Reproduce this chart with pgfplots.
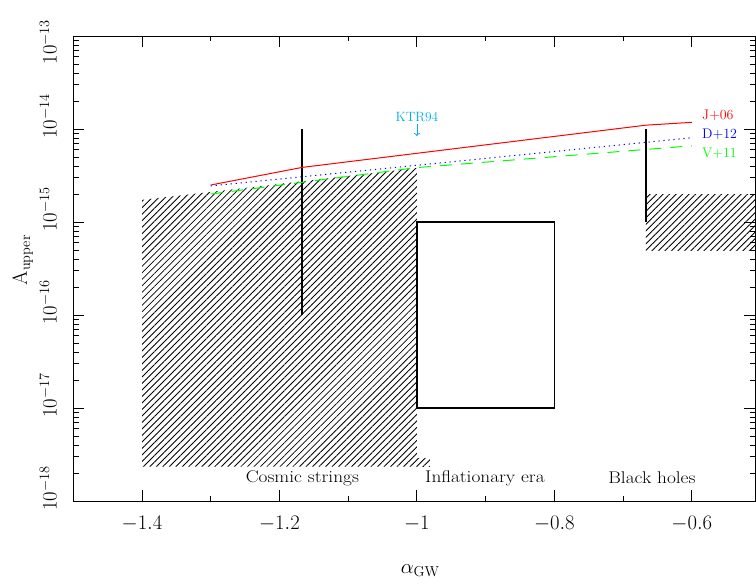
\documentclass[border=0pt]{standalone}
\usepackage{pgfplots}
\pgfplotsset{compat=1.18}
\usepackage{graphicx}
\usetikzlibrary{patterns.meta,arrows.meta}
\tikzset{hatch/.style={draw=none, pattern={Lines[angle=45,distance=4.6bp,line width=0.85bp]}}}
\begin{document}
\begin{tikzpicture}
\useasboundingbox (-73.3bp,-83bp) rectangle (682.7bp,501bp);
\begin{axis}[
  at={(0,0)}, anchor=south west,
  scale only axis, width=681.7bp, height=465bp,
  xmin=-1.5, xmax=-0.508, ymin=1e-18, ymax=1e-13, ymode=log,
  axis line style={line width=1bp},
  tick style={black, line width=0.9bp},
  tick align=inside, major tick length=11bp, minor tick length=5.5bp,
  xtick={-1.4,-1.2,-1,-0.8,-0.6},
  minor xtick={-1.5,-1.3,-1.1,-0.9,-0.7},
  ytick={1e-18,1e-17,1e-16,1e-15,1e-14,1e-13},
  minor ytick={2e-18,3e-18,4e-18,5e-18,6e-18,7e-18,8e-18,9e-18,
               2e-17,3e-17,4e-17,5e-17,6e-17,7e-17,8e-17,9e-17,
               2e-16,3e-16,4e-16,5e-16,6e-16,7e-16,8e-16,9e-16,
               2e-15,3e-15,4e-15,5e-15,6e-15,7e-15,8e-15,9e-15,
               2e-14,3e-14,4e-14,5e-14,6e-14,7e-14,8e-14,9e-14},
  yticklabels={$\phantom{^{-18}}10^{-18}$,$\phantom{^{-17}}10^{-17}$,
               $\phantom{^{-16}}10^{-16}$,$\phantom{^{-15}}10^{-15}$,
               $\phantom{^{-14}}10^{-14}$,$10^{-13}$\hspace*{12bp}},
  tick label style={font=\fontsize{21}{25}\selectfont},
  xticklabel style={anchor=north, inner sep=0pt},
  xticklabel shift=15bp,
  yticklabel style={rotate=90, anchor=south, inner sep=0pt},
  yticklabel shift=16.5bp,
  xlabel={$\alpha_{\mathrm{GW}}$},
  ylabel={$\mathrm{A}_{\mathrm{upper}}$},
  label style={font=\fontsize{22}{26}\selectfont},
  xlabel style={at={(axis description cs:0.509,-0.15)}, anchor=center},
  ylabel style={at={(axis description cs:-0.074,0.518)}, anchor=center},
]

% hatched regions
\addplot[hatch]
  coordinates {(-1.4,2.34e-18) (-1.4,1.73e-15) (-1.0,3.81e-15) (-1.0,2.34e-18)} -- cycle;
\addplot[hatch]
  coordinates {(-0.981,2.34e-18) (-1.0,2.34e-18) (-1.0,2.9e-18) (-0.981,2.9e-18)} -- cycle;
\addplot[hatch]
  coordinates {(-0.6667,5e-16) (-0.6667,2e-15) (-0.5,2e-15) (-0.5,5e-16)} -- cycle;

% inflationary box
\addplot[black, line width=1.6bp]
  coordinates {(-1,1e-17) (-0.8,1e-17) (-0.8,1e-15) (-1,1e-15)} -- cycle;

% vertical bars
\addplot[black, line width=1.8bp] coordinates {(-1.1667,1e-16) (-1.1667,1e-14)};
\addplot[black, line width=1.8bp] coordinates {(-0.6667,1e-15) (-0.6667,1e-14)};

% limits
\addplot[red, line width=1bp]
  coordinates {(-1.3,2.5e-15) (-1.1667,3.87e-15) (-0.6667,1.1e-14) (-0.6,1.18e-14)};
\addplot[blue, line width=1bp, dash pattern=on 1.2bp off 3.8bp]
  coordinates {(-1.3,2.44e-15) (-0.6,8.06e-15)};
\addplot[green, line width=1bp, dash pattern=on 12bp off 9bp]
  coordinates {(-1.3,2.0e-15) (-1.0,3.85e-15) (-0.6,6.6e-15)};

% KTR94 arrow
\addplot[cyan, line width=0.8bp, -{To[length=3bp,width=6bp]}]
  coordinates {(-1,1.13e-14) (-1,8.4e-15)};
\node[cyan, font=\fontsize{13.5}{15}\selectfont] at (axis cs:-1,1.355e-14) {KTR94};

\node[red, anchor=west, font=\fontsize{14}{16}\selectfont] at (axis cs:-0.5899,1.39e-14) {J+06};
\node[blue, anchor=west, font=\fontsize{14}{16}\selectfont] at (axis cs:-0.5899,8.77e-15) {D+12};
\node[green, anchor=west, font=\fontsize{14}{16}\selectfont] at (axis cs:-0.5899,5.48e-15) {V+11};

\node[font=\fontsize{17}{20}\selectfont] at (axis cs:-1.1667,1.766e-18) {\scalebox{1.14}[1]{Cosmic strings}};
\node[font=\fontsize{17}{20}\selectfont] at (axis cs:-0.901,1.766e-18) {\scalebox{1.14}[1]{Inflationary era}};
\node[font=\fontsize{17}{20}\selectfont] at (axis cs:-0.658,1.766e-18) {\scalebox{1.14}[1]{Black holes}};

\end{axis}
\end{tikzpicture}
\end{document}
